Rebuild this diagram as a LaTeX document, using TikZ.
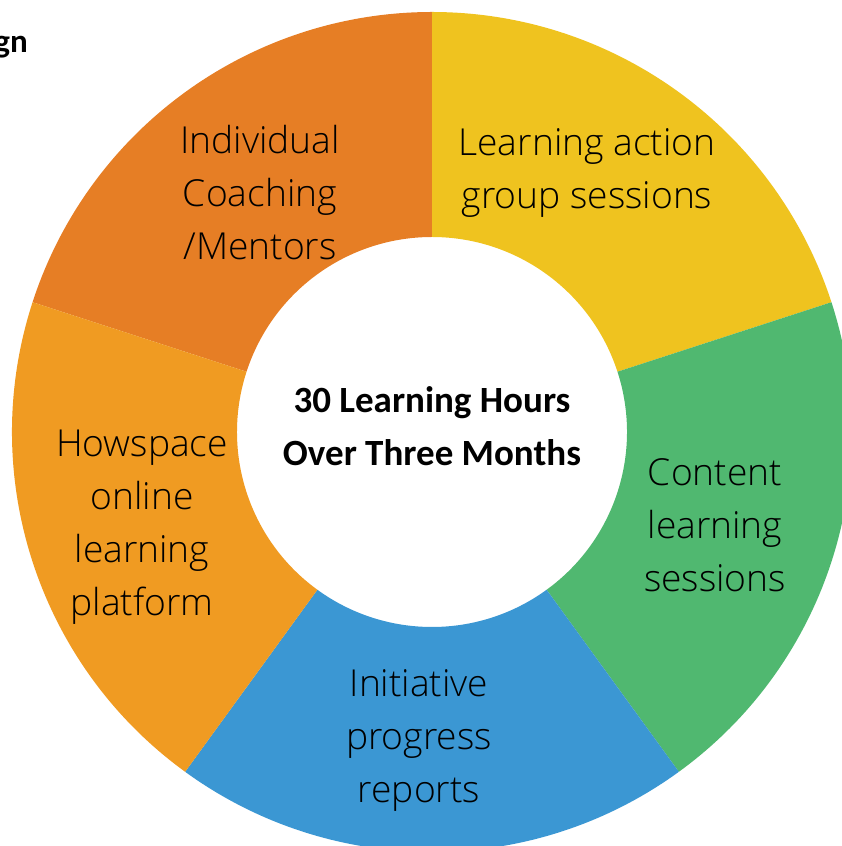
\documentclass[tikz,border=0pt]{standalone}
\usepackage{fontspec}
\setmainfont{Open Sans}[UprightFont=* Light]
\newfontfamily\calibri{Carlito}
\definecolor{segA}{HTML}{E67E25}
\definecolor{segB}{HTML}{EFC31F}
\definecolor{segC}{HTML}{50B870}
\definecolor{segD}{HTML}{3B97D3}
\definecolor{segE}{HTML}{F09B22}
\tikzset{
  seglabel/.style={align=center, inner sep=0pt, font=\fontsize{37.2}{53}\selectfont, text=black},
  centerlabel/.style={align=center, inner sep=0pt, font=\calibri\bfseries\fontsize{37}{53}\selectfont, text=black}
}
\newcommand{\ringseg}[3]{%
  \fill[#1] ($(O)+(#2:420pt)$) arc[start angle=#2, end angle=#3, radius=420pt]
    -- ($(O)+(#3:195pt)$) arc[start angle=#3, end angle=#2, radius=195pt] -- cycle;}
\usetikzlibrary{calc}
\begin{document}
\begin{tikzpicture}[x=1pt,y=1pt]
\useasboundingbox (0,0) rectangle (842,846);
\clip (0,0) rectangle (842,846);
\coordinate (O) at (432,414);
\ringseg{segA}{90}{162}
\ringseg{segB}{18}{90}
\ringseg{segC}{-54}{18}
\ringseg{segD}{-126}{-54}
\ringseg{segE}{162}{234}
\node[seglabel] (a) at (260,653) {Individual\\Coaching\\/Mentors};
\node[seglabel] (b) at (587,673) {Learning action\\group sessions};
\node[seglabel] (c) at (715,321) {Content\\learning\\sessions};
\node[seglabel] (d) at (419,106) {Initiative\\progress\\reports};
\node[seglabel] (e) at (142,319) {Howspace\\online\\learning\\platform};
\node[centerlabel] (m) at (432,420) {30 Learning Hours\\Over Three Months};
\node[anchor=base east, inner sep=0pt, font=\calibri\bfseries\fontsize{33}{36}\selectfont] (t) at (28,793) {gn};
\end{tikzpicture}
\end{document}
